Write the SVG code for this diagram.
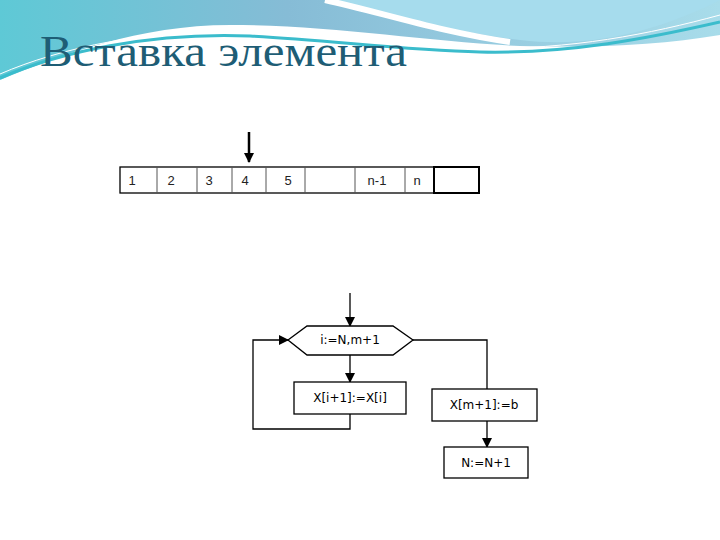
<svg xmlns="http://www.w3.org/2000/svg" width="720" height="540" viewBox="0 0 720 540">
<defs>
<linearGradient id="g1" x1="0" y1="0" x2="1" y2="0"><stop offset="0" stop-color="#5ec9d6"/><stop offset="0.4" stop-color="#86bcd6"/><stop offset="1" stop-color="#a8dcea"/></linearGradient>
<marker id="ah" markerWidth="10" markerHeight="10" refX="9" refY="5" orient="auto" markerUnits="userSpaceOnUse"><path d="M0,0 L10,5 L0,10 Z" fill="#000"/></marker>
<style>
.t{font-family:"DejaVu Sans",sans-serif;font-size:12px;fill:#000;text-anchor:middle}
.a{font-family:"Liberation Sans",Arial,sans-serif;font-size:13px;fill:#222;text-anchor:middle}
.b{fill:#fff;stroke:#000;stroke-width:1.3}
.c{fill:none;stroke:#000;stroke-width:1.3}
</style>
</defs>
<rect width="720" height="540" fill="#fff"/>
<path d="M0,0 H720 V35 C660,45 600,48 520,46 C430,42 330,25 230,25 C140,25 60,55 0,80 Z" fill="url(#g1)"/>
<path d="M325,0 C380,12 440,30 520,40 C600,50 670,25 720,0 Z" fill="#a6dced"/>
<path d="M325,0 C380,12 440,32 510,42" stroke="#fff" stroke-width="6" fill="none"/>
<path d="M0,78 C60,52 150,32 250,36 C330,40 400,50 480,52 C570,54 650,38 720,22" stroke="#3bbccc" stroke-width="3" fill="none"/>
<path d="M0,74 C60,48 150,28 250,32 C330,36 390,44 480,48 C570,50 650,34 720,15" stroke="#ffffff" stroke-width="1" fill="none"/>
<text x="40" y="66" font-family="Liberation Serif,serif" font-size="44" textLength="367" lengthAdjust="spacingAndGlyphs" fill="#1e5d75">Вставка элемента</text>
<g id="array">
<rect x="120" y="167" width="359" height="26" class="b"/>
<path d="M157,167V193M197,167V193M232,167V193M266,167V193M305,167V193M355,167V193M405,167V193M434,167V193" stroke="#555" stroke-width="1"/>
<rect x="434" y="167" width="45" height="26" fill="none" stroke="#000" stroke-width="2"/>
<text x="132" y="185" class="a">1</text><text x="171" y="185" class="a">2</text><text x="209" y="185" class="a">3</text><text x="245" y="185" class="a">4</text><text x="288" y="185" class="a">5</text><text x="377" y="185" class="a">n-1</text><text x="417" y="185" class="a">n</text>
</g>
<g id="edges">
<line x1="249" y1="132" x2="249" y2="162" stroke="#000" stroke-width="2.5" marker-end="url(#ah)"/>
<line x1="350" y1="293" x2="350" y2="326" class="c" marker-end="url(#ah)"/>
<line x1="350" y1="355" x2="350" y2="382" class="c" marker-end="url(#ah)"/>
<polyline points="350,414 350,429 253,429 253,340 288,340" class="c" marker-end="url(#ah)"/>
<polyline points="413,340 487,340 487,389" class="c"/>
<line x1="487" y1="421" x2="487" y2="447" class="c" marker-end="url(#ah)"/>
</g>
<g id="loop"><polygon points="288,340 307,326 393,326 413,340 393,355 307,355" class="b"/><text x="350" y="344" class="t">i:=N,m+1</text></g>
<g id="shift"><rect x="294" y="382" width="112" height="32" class="b"/><text x="350" y="402" class="t">X[i+1]:=X[i]</text></g>
<g id="assign"><rect x="432" y="389" width="105" height="32" class="b"/><text x="484" y="409" class="t">X[m+1]:=b</text></g>
<g id="inc"><rect x="444" y="447" width="84" height="31" class="b"/><text x="486" y="467" class="t">N:=N+1</text></g>
</svg>
